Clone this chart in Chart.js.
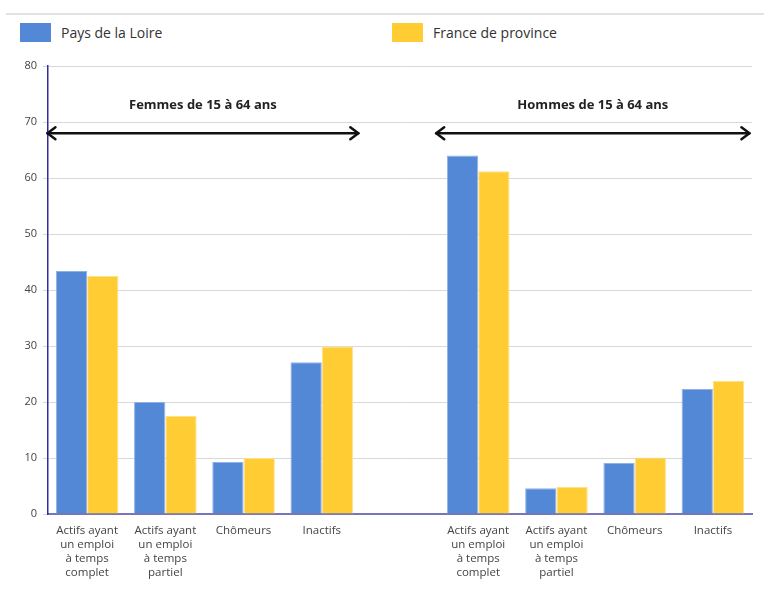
<!DOCTYPE html>
<html>
<head>
<meta charset="utf-8">
<script src="https://cdn.jsdelivr.net/npm/chart.js@4/dist/chart.umd.min.js"></script>
<style>
  body { margin: 0; background: #fff; font-family: "Open Sans", sans-serif; }
  #wrap { position: relative; width: 764px; height: 594px; }
  #topline { position: absolute; left: 6px; right: 0; top: 13px; height: 2px; background: #e3e3e3; }
  .leg { position: absolute; top: 22px; height: 20px; display: flex; align-items: center; font-size: 14px; color: #333; }
  .leg span.box { display: inline-block; width: 31px; height: 19px; margin-right: 10px; }
  canvas { position: absolute; left: 0; top: 0; }
</style>
</head>
<body>
<div id="wrap">
  <div id="topline"></div>
  <div class="leg" style="left:20px"><span class="box" style="background:#5288d5"></span>Pays de la Loire</div>
  <div class="leg" style="left:392px"><span class="box" style="background:#ffcd33"></span>France de province</div>
  <canvas id="chart" width="764" height="594"></canvas>
</div>
<script>
// Categories: women's block, an empty spacer slot, then men's block
const categories = [
    ['Actifs ayant', 'un emploi', 'à temps', 'complet'],
    ['Actifs ayant', 'un emploi', 'à temps', 'partiel'],
    'Chômeurs',
    'Inactifs',
    '',
    ['Actifs ayant', 'un emploi', 'à temps', 'complet'],
    ['Actifs ayant', 'un emploi', 'à temps', 'partiel'],
    'Chômeurs',
    'Inactifs'
];
const paysDeLaLoire = [43.4, 20.0, 9.3, 27.1, null, 64.0, 4.6, 9.1, 22.3];
const franceProvince = [42.5, 17.5, 10.0, 29.9, null, 61.2, 4.8, 10.1, 23.8];
const yTicks = [0, 10, 20, 30, 40, 50, 60, 70, 80];

// Group brackets: from/to in category units, label height and arrow height in value units
const groups = [
    { label: 'Femmes de 15 à 64 ans', from: -0.52, to: 3.48, textY: 73, arrowY: 68 },
    { label: 'Hommes de 15 à 64 ans', from: 4.45, to: 8.48, textY: 73, arrowY: 68 }
];

const groupArrows = {
    id: 'groupArrows',
    afterDatasetsDraw(chart) {
        const { ctx, scales: { x, y } } = chart;
        const step = x.getPixelForValue(1) - x.getPixelForValue(0);
        ctx.save();
        groups.forEach(g => {
            const x0 = x.getPixelForValue(0) + g.from * step;
            const x1 = x.getPixelForValue(0) + g.to * step;
            const ya = y.getPixelForValue(g.arrowY);
            ctx.strokeStyle = '#111';
            ctx.lineWidth = 2.5;
            ctx.lineCap = 'round';
            ctx.lineJoin = 'round';
            ctx.beginPath();
            ctx.moveTo(x0 + 1, ya);
            ctx.lineTo(x1 - 1, ya);
            ctx.stroke();
            ctx.beginPath();
            ctx.moveTo(x0 + 9, ya - 6);
            ctx.lineTo(x0 + 1, ya);
            ctx.lineTo(x0 + 9, ya + 6);
            ctx.moveTo(x1 - 9, ya - 6);
            ctx.lineTo(x1 - 1, ya);
            ctx.lineTo(x1 - 9, ya + 6);
            ctx.stroke();
            ctx.fillStyle = '#222';
            ctx.font = 'bold 13px "Open Sans"';
            ctx.textAlign = 'center';
            ctx.textBaseline = 'middle';
            ctx.fillText(g.label, (x0 + x1) / 2, y.getPixelForValue(g.textY));
        });
        ctx.restore();
    }
};

new Chart(document.getElementById('chart'), {
    type: 'bar',
    data: {
        labels: categories,
        datasets: [{
            label: 'Pays de la Loire',
            data: paysDeLaLoire,
            backgroundColor: '#5288d5',
            borderColor: '#8fb1e8',
            borderWidth: 1
        }, {
            label: 'France de province',
            data: franceProvince,
            backgroundColor: '#ffcd33',
            borderColor: '#ffe08a',
            borderWidth: 1
        }]
    },
    options: {
        responsive: false,
        animation: false,
        layout: { padding: { left: 4, top: 66, right: 12, bottom: 0 } },
        categoryPercentage: 0.8,
        barPercentage: 1.0,
        scales: {
            x: {
                grid: { display: false },
                border: { color: '#7676b8', width: 2 },
                ticks: {
                    color: '#444',
                    font: { family: '"Open Sans"', size: 11.5, lineHeight: 1.22 },
                    maxRotation: 0,
                    autoSkip: false,
                    padding: 2
                },
                afterFit: scale => { scale.height = 80; }
            },
            y: {
                min: 0, max: 80,
                afterBuildTicks: scale => { scale.ticks = yTicks.map(v => ({ value: v })); },
                grid: { color: '#d8d8d8', tickLength: 5 },
                border: { color: '#2e2e9c', width: 1.5 },
                ticks: {
                    color: '#444',
                    font: { family: '"Open Sans"', size: 11 },
                    padding: 6
                },
                afterFit: scale => { scale.width = 44; }
            }
        },
        plugins: {
            legend: { display: false },
            tooltip: { enabled: false }
        }
    },
    plugins: [groupArrows]
});
</script>
</body>
</html>
